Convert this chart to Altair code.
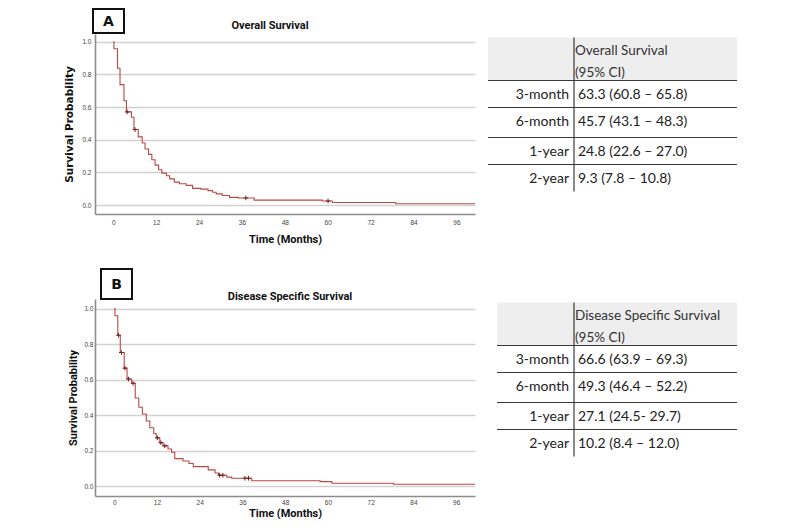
import altair as alt
import pandas as pd

# ---------------- data ----------------
# Overall survival (Kaplan-Meier steps: time in months, survival after the step)
os_time = [0, 0.2, 1.2, 1.9, 3.0, 3.7, 5.1, 5.8, 7.0, 8.1, 8.9, 9.9, 10.8, 11.7, 12.7, 13.6,
           14.9, 15.8, 17.1, 18.5, 20.4, 22.2, 24.5, 26.5, 27.8, 28.8, 30.5, 32.5, 35.0, 39.4,
           58.5, 61.3, 79.0, 101.3]
os_surv = [1.0, 0.957, 0.837, 0.737, 0.638, 0.57, 0.537, 0.462, 0.417, 0.38, 0.343, 0.31, 0.277,
           0.244, 0.216, 0.195, 0.179, 0.16, 0.14, 0.13, 0.12, 0.102, 0.097, 0.088, 0.078, 0.068,
           0.058, 0.047, 0.043, 0.030, 0.025, 0.015, 0.008, 0.008]
os_cens_time = [3.9, 6.1, 37.1, 60.1]
os_cens_surv = [0.57, 0.462, 0.043, 0.025]

# Disease specific survival
dss_time = [0, 0.2, 1.0, 1.7, 2.8, 3.6, 4.9, 5.9, 6.9, 7.9, 9.0, 10.0, 11.1, 11.8, 12.8, 13.7,
            15.1, 16.1, 17.0, 19.3, 21.0, 22.2, 26.4, 28.3, 29.3, 31.6, 33.0, 38.6, 57.8, 61.1,
            78.4, 101.3]
dss_surv = [1.0, 0.96, 0.85, 0.753, 0.665, 0.604, 0.58, 0.497, 0.445, 0.407, 0.368, 0.33, 0.296,
            0.273, 0.246, 0.228, 0.21, 0.192, 0.156, 0.143, 0.129, 0.111, 0.093, 0.075, 0.063,
            0.052, 0.046, 0.032, 0.027, 0.018, 0.0125, 0.0125]
dss_cens_time = [1.2, 2.0, 3.0, 4.0, 5.3, 12.1, 13.1, 14.2, 29.6, 30.5, 36.7, 37.7]
dss_cens_surv = [0.85, 0.753, 0.665, 0.604, 0.58, 0.273, 0.246, 0.228, 0.063, 0.063, 0.046, 0.046]

x_ticks = [0, 12, 24, 36, 48, 60, 72, 84, 96]
y_ticks = [0.0, 0.2, 0.4, 0.6, 0.8, 1.0]

row_labels = ["3-month", "6-month", "1-year", "2-year"]
os_ci = ["63.3 (60.8 \u2013 65.8)", "45.7 (43.1 \u2013 48.3)", "24.8 (22.6 \u2013 27.0)", "9.3 (7.8 \u2013 10.8)"]
dss_ci = ["66.6 (63.9 \u2013 69.3)", "49.3 (46.4 \u2013 52.2)", "27.1 (24.5- 29.7)", "10.2 (8.4 \u2013 12.0)"]
os_header = ["Overall Survival", "(95% CI)"]
dss_header = ["Disease Specific Survival", "(95% CI)"]

# ---------------- style / layout ----------------
LINE = "#b84a45"
CENS = "#6e2320"
GRID = "#d2d2d2"
AXIS = "#8c8c8c"
KM_W = 380


def km_panel(times, surv, ctimes, csurv, title, letter, height, xdom, ydom, title_pos,
             ytitle_font, ytitle_size, ylab_pad, ytitle_pad, xlab_pad, xtitle_pad, box):
    curve = pd.DataFrame({"t": times, "s": surv})
    cens = pd.DataFrame({"t": ctimes, "s": csurv})
    xs = alt.Scale(domain=xdom, nice=False, zero=False)
    ys = alt.Scale(domain=ydom, nice=False, zero=False)
    xenc = alt.X("t:Q", scale=xs,
                 axis=alt.Axis(values=x_ticks, tickCount=20, title="Time (Months)", grid=False,
                               ticks=False, tickSize=0, labelOverlap=False,
                               labelFont="Liberation Sans", labelFontSize=6.5,
                               labelColor="#444", labelPadding=xlab_pad, domainColor=AXIS,
                               domainWidth=1.6, titleFont="Roboto", titleFontSize=11,
                               titleFontWeight="bold", titleColor="#111",
                               titlePadding=xtitle_pad))
    yenc = alt.Y("s:Q", scale=ys,
                 axis=alt.Axis(values=y_ticks, tickCount=20, format=".1f",
                               title="Survival Probability", grid=True, gridColor=GRID,
                               gridWidth=1.3, ticks=False, tickSize=0, labelOverlap=False,
                               labelFont="Liberation Sans", labelFontSize=6.5, labelColor="#444",
                               labelPadding=ylab_pad, domainColor=AXIS, domainWidth=1.6,
                               titleFont=ytitle_font, titleFontSize=ytitle_size,
                               titleFontWeight="bold", titleColor="#111",
                               titlePadding=ytitle_pad))
    line = alt.Chart(curve).mark_line(interpolate="step-after", color=LINE, strokeWidth=1.1,
                                      clip=True).encode(x=xenc, y=yenc)
    marks = alt.Chart(cens).mark_point(shape="M0,-1L0,1M-1,0L1,0", size=22, stroke=CENS,
                                       strokeWidth=1, filled=False, opacity=1).encode(
        x="t:Q", y="s:Q")
    lab = pd.DataFrame({"letter": [letter], "title": [title]})
    bx0, bx1, by0, by1 = box
    rect = alt.Chart(lab).mark_rect(fill="white", stroke="#111", strokeWidth=2).encode(
        x=alt.value(bx0), x2=alt.value(bx1), y=alt.value(by0), y2=alt.value(by1))
    txt = alt.Chart(lab).mark_text(font="DejaVu Sans", fontWeight="bold", fontSize=14,
                                   color="#111", align="center", baseline="middle").encode(
        x=alt.value((bx0 + bx1) / 2), y=alt.value((by0 + by1) / 2 + 1), text="letter:N")
    ttl = alt.Chart(lab).mark_text(font="Roboto", fontWeight="bold", fontSize=11,
                                   color="#111", align="center", baseline="middle").encode(
        x=alt.value(title_pos[0]), y=alt.value(title_pos[1]), text="title:N")
    return alt.layer(line, marks, rect, txt, ttl).properties(width=KM_W, height=height)


# table layout (pixel units inside the table panel)
TAB_W = 249
TAB_H = 160
HDR_TOP, HDR_BOT = 3.5, 46.5
HLINES = [46.5, 73.5, 103.5, 130.5]
ROW_Y = [61, 88, 117.5, 145]
HEAD_Y = [17, 39]
VLINE_X, VLINE_END = 86, 157.5
LABEL_X, VALUE_X, HEAD_X = 81, 90, 87


def table_panel(header, values, x0):
    sx = alt.Scale(domain=[0, TAB_W], nice=False, zero=False)
    sy = alt.Scale(domain=[0, TAB_H], nice=False, zero=False, reverse=True)
    X = lambda f: alt.X(f, type="quantitative", scale=sx, axis=None)
    Y = lambda f: alt.Y(f, type="quantitative", scale=sy, axis=None)

    bg = alt.Chart(pd.DataFrame({"x": [x0], "x2": [TAB_W], "y": [HDR_TOP], "y2": [HDR_BOT]})
                   ).mark_rect(fill="#eeeeee").encode(x=X("x"), x2="x2", y=Y("y"), y2="y2")
    hl = alt.Chart(pd.DataFrame({"y": HLINES, "x": [x0] * 4, "x2": [TAB_W] * 4})
                   ).mark_rule(color="#3a3a3a", strokeWidth=1.2).encode(
        x=X("x"), x2="x2", y=Y("y"))
    vl = alt.Chart(pd.DataFrame({"x": [VLINE_X], "y": [HDR_TOP], "y2": [VLINE_END]})
                   ).mark_rule(color="#3a3a3a", strokeWidth=1.2).encode(
        x=X("x"), y=Y("y"), y2="y2")
    rows = pd.DataFrame({"label": row_labels, "value": values, "y": ROW_Y,
                         "lx": [LABEL_X] * 4, "vx": [VALUE_X] * 4})
    lab = alt.Chart(rows).mark_text(font="Lato", fontSize=14, color="#222", align="right",
                                    baseline="middle").encode(x=X("lx"), y=Y("y"), text="label:N")
    val = alt.Chart(rows).mark_text(font="Lato", fontSize=14, color="#222", align="left",
                                    baseline="middle").encode(x=X("vx"), y=Y("y"), text="value:N")
    hd = alt.Chart(pd.DataFrame({"h": header, "y": HEAD_Y, "x": [HEAD_X] * 2})).mark_text(
        font="Lato", fontSize=13.5, color="#333", align="left", baseline="middle").encode(
        x=X("x"), y=Y("y"), text="h:N")
    return alt.layer(bg, hl, vl, lab, val, hd).properties(width=TAB_W, height=TAB_H)


km_a = km_panel(os_time, os_surv, os_cens_time, os_cens_surv, "Overall Survival", "A",
                height=180, xdom=[-5.1, 101.2], ydom=[-0.055, 1.047], title_pos=(175, -8),
                ytitle_font="DejaVu Sans", ytitle_size=10.5, ylab_pad=4, ytitle_pad=7,
                xlab_pad=5.5, xtitle_pad=7, box=(-2, 29, -25, -1))
km_b = km_panel(dss_time, dss_surv, dss_cens_time, dss_cens_surv, "Disease Specific Survival",
                "B", height=197, xdom=[-5.4, 101.3], ydom=[-0.054, 1.054], title_pos=(195, -2.5),
                ytitle_font="Roboto", ytitle_size=11, ylab_pad=2, ytitle_pad=5,
                xlab_pad=3, xtitle_pad=2, box=(6, 37, -30, 0))
tab_a = table_panel(os_header, os_ci, 0)
tab_b = table_panel(dss_header, dss_ci, 9)

chart = alt.concat(km_a, tab_a, km_b, tab_b, columns=2, align="each", bounds="full",
                   spacing={"row": 24, "column": 12}).properties(
    padding={"left": 56, "top": 0, "right": 5, "bottom": 0},
    background="white").configure_view(stroke=None)

chart.save("out.html", embed_options={"renderer": "svg", "actions": False})
